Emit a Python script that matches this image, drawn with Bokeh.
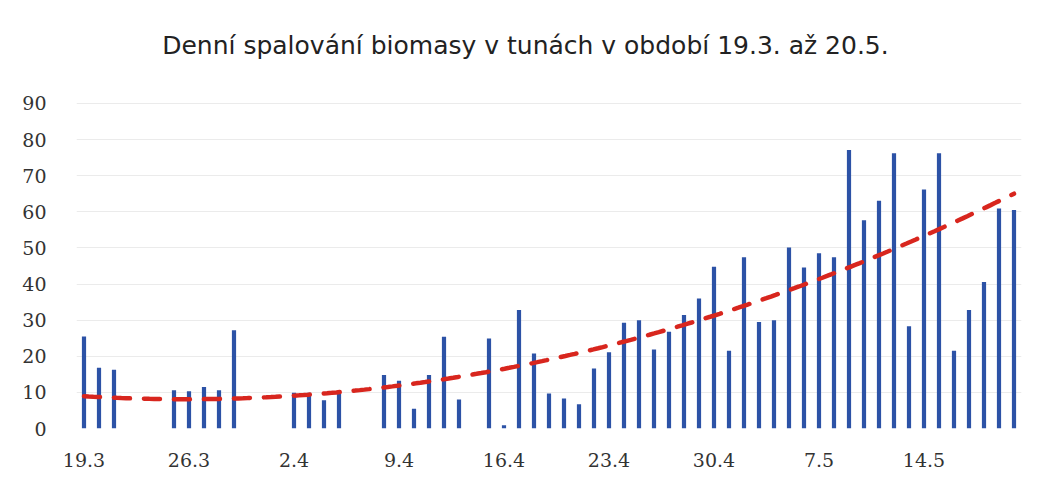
import numpy as np
from bokeh.plotting import figure
from bokeh.models import ColumnDataSource, FixedTicker, Range1d, Label
from bokeh.embed import file_html
from bokeh.resources import INLINE

# Daily burned biomass (t), 19.3. .. 20.5. (0 = no operation that day)
tons = [25.5, 16.8, 16.3, 0, 0, 0, 10.6, 10.3, 11.5, 10.6, 27.2,
        0, 0, 0, 9.9, 9.9, 7.8, 9.7, 0, 0, 14.8, 13.2, 5.5,
        14.8, 25.4, 8.0, 0, 24.9, 0.9, 32.8, 20.8, 9.7, 8.3, 6.7, 16.6,
        21.1, 29.3, 30.0, 21.9, 26.8, 31.4, 36.0, 44.8, 21.5, 47.4, 29.5,
        30.0, 50.1, 44.6, 48.5, 47.4, 77.1, 57.7, 63.1, 76.2, 28.3, 66.2,
        76.2, 21.5, 32.8, 40.6, 60.9, 60.5]
tick_labels = ["19.3", "26.3", "2.4", "9.4", "16.4", "23.4", "30.4", "7.5", "14.5"]
y_ticks = [0, 10, 20, 30, 40, 50, 60, 70, 80, 90]
title_text = "Denní spalování biomasy v tunách v období 19.3. až 20.5."

days = list(range(len(tons)))
src = ColumnDataSource(dict(x=days, top=tons))

# polynomial (order 2) trendline like Excel
coef = np.polyfit(days, tons, 2)
tx = np.linspace(0, len(tons) - 1, 200)
ty = np.polyval(coef, tx)

# the frame extends above 90 to leave room for the title inside it
p = figure(width=1029, height=472, output_backend="svg", toolbar_location=None,
           x_range=Range1d(-0.5, len(tons) - 0.5), y_range=Range1d(0, 115.75),
           min_border_left=76, min_border_right=8, min_border_top=10,
           min_border_bottom=44)
p.outline_line_color = None
p.background_fill_color = "white"
p.border_fill_color = "white"

p.vbar(x="x", top="top", bottom=0, width=0.28, source=src,
       fill_color="#2C52A6", line_color=None)
p.line(tx, ty, line_color="#D8261E", line_width=4.5, line_dash="16 14",
       line_cap="round")

p.add_layout(Label(x=29.43, y=106.06, text=title_text,
                   text_align="center", text_baseline="middle",
                   text_font="DejaVu Sans", text_font_size="25px",
                   text_color="#222222"))

p.xaxis.ticker = FixedTicker(ticks=[i * 7 for i in range(len(tick_labels))])
p.xaxis.major_label_overrides = {i * 7: t for i, t in enumerate(tick_labels)}
p.yaxis.ticker = FixedTicker(ticks=y_ticks)
for ax in (p.xaxis, p.yaxis):
    ax.axis_line_color = None
    ax.major_tick_line_color = None
    ax.minor_tick_line_color = None
    ax.major_label_text_font = "DejaVu Serif"
    ax.major_label_text_font_size = "19px"
    ax.major_label_text_color = "#333333"
p.xaxis.major_label_standoff = 18
p.yaxis.major_label_standoff = 24

p.xgrid.grid_line_color = None
p.ygrid.grid_line_color = "#ebebeb"
p.ygrid.grid_line_width = 1

open("out.html", "w").write(file_html(p, INLINE))
